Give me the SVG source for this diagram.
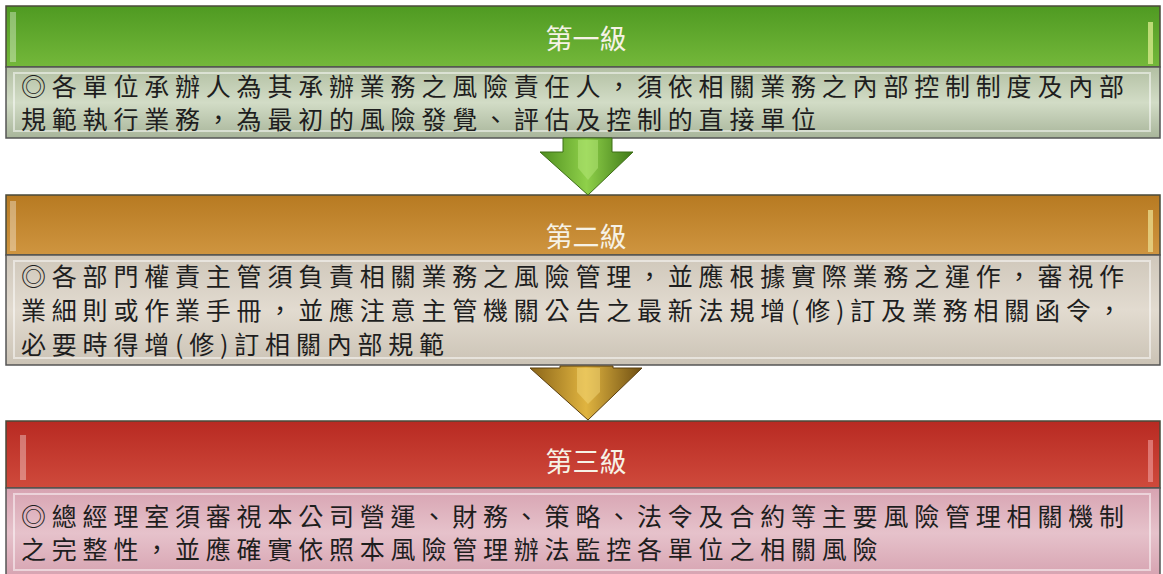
<svg xmlns="http://www.w3.org/2000/svg" width="1163" height="574" viewBox="0 0 1163 574">
<defs>
<linearGradient id="gHead" x1="0" y1="0" x2="0" y2="1"><stop offset="0" stop-color="#4f9a22"/><stop offset="1" stop-color="#74b83a"/></linearGradient>
<linearGradient id="gBody" x1="0" y1="0" x2="0" y2="1"><stop offset="0" stop-color="#b2bfa2"/><stop offset="0.5" stop-color="#d2dcc6"/><stop offset="1" stop-color="#a8b59a"/></linearGradient>
<linearGradient id="oHead" x1="0" y1="0" x2="0" y2="1"><stop offset="0" stop-color="#b77a22"/><stop offset="1" stop-color="#cf9540"/></linearGradient>
<linearGradient id="oBody" x1="0" y1="0" x2="0" y2="1"><stop offset="0" stop-color="#cfc7ba"/><stop offset="0.5" stop-color="#e2dbd0"/><stop offset="1" stop-color="#cbc3b5"/></linearGradient>
<linearGradient id="rHead" x1="0" y1="0" x2="0" y2="1"><stop offset="0" stop-color="#b82a22"/><stop offset="1" stop-color="#cf4a3c"/></linearGradient>
<linearGradient id="rBody" x1="0" y1="0" x2="0" y2="1"><stop offset="0" stop-color="#d7a3b1"/><stop offset="0.5" stop-color="#e6c2cb"/><stop offset="1" stop-color="#d6a2b0"/></linearGradient>
<linearGradient id="gArrow" x1="0" y1="0" x2="1" y2="0"><stop offset="0" stop-color="#4f8f1f"/><stop offset="0.5" stop-color="#8fd04a"/><stop offset="1" stop-color="#3f7a17"/></linearGradient>
<linearGradient id="oArrow" x1="0" y1="0" x2="1" y2="0"><stop offset="0" stop-color="#8a6418"/><stop offset="0.5" stop-color="#e0b440"/><stop offset="1" stop-color="#6e4e12"/></linearGradient>
</defs>
<style>
.hdr{stroke:#4a4a3a;stroke-width:1.5}
.bdy{stroke:#555;stroke-width:1.5}
.ttl{font-family:"Noto Sans CJK TC","Noto Sans CJK SC",sans-serif;font-size:27px;fill:#f6f2e6;text-anchor:middle}
.txt{font-family:"Noto Sans CJK TC","Noto Sans CJK SC",sans-serif;font-size:25px;fill:#1e1e1e;letter-spacing:5.8px}
.hl{fill:#ffffff;opacity:0.35}
.bev{fill:none;stroke:#ffffff;stroke-width:2;opacity:0.5}
</style>
<g id="level1">
<rect class="hdr" x="6" y="6" width="1154" height="61" fill="url(#gHead)"/>
<rect class="hl" x="10" y="12" width="6" height="50"/>
<rect x="1148" y="22" width="5" height="42" fill="#d6e88a" opacity="0.8"/>
<text class="ttl" x="586" y="49">第一級</text>
<rect class="bdy" x="6" y="67" width="1154" height="71" fill="url(#gBody)"/>
<rect class="bev" x="14" y="73" width="1136" height="58"/>
<text class="txt" x="21" y="96">◎各單位承辦人為其承辦業務之風險責任人，須依相關業務之內部控制制度及內部</text>
<text class="txt" x="21" y="129">規範執行業務，為最初的風險發覺、評估及控制的直接單位</text>
</g>
<g id="level2">
<rect class="hdr" x="6" y="195" width="1154" height="60" fill="url(#oHead)"/>
<rect class="hl" x="10" y="201" width="6" height="50"/>
<rect x="1148" y="210" width="5" height="42" fill="#e8d88a" opacity="0.8"/>
<text class="ttl" x="586" y="247">第二級</text>
<rect class="bdy" x="6" y="255" width="1154" height="110" fill="url(#oBody)"/>
<rect class="bev" x="14" y="261" width="1136" height="97"/>
<text class="txt" x="21" y="286">◎各部門權責主管須負責相關業務之風險管理，並應根據實際業務之運作，審視作</text>
<text class="txt" x="21" y="320">業細則或作業手冊，並應注意主管機關公告之最新法規增(修)訂及業務相關函令，</text>
<text class="txt" x="21" y="354">必要時得增(修)訂相關內部規範</text>
</g>
<g id="level3">
<rect class="hdr" x="6" y="421" width="1154" height="67" fill="url(#rHead)"/>
<rect class="hl" x="20" y="435" width="6" height="45"/>
<rect x="1148" y="440" width="5" height="42" fill="#f0a0a0" opacity="0.6"/>
<text class="ttl" x="586" y="472">第三級</text>
<rect class="bdy" x="6" y="488" width="1154" height="90" fill="url(#rBody)"/>
<rect class="bev" x="14" y="494" width="1136" height="76"/>
<text class="txt" x="21" y="526">◎總經理室須審視本公司營運、財務、策略、法令及合約等主要風險管理相關機制</text>
<text class="txt" x="21" y="559">之完整性，並應確實依照本風險管理辦法監控各單位之相關風險</text>
</g>
<g id="connectors">
<path d="M563 138 L612 138 L612 152 L633 152 L588 195 L540 152 L563 152 Z" fill="url(#gArrow)" stroke="#3d6e16" stroke-width="1"/>
<path d="M578 140 L598 140 L598 168 L588 180 L578 168 Z" fill="#b6e87a" opacity="0.5"/>
<path d="M560 366 L613 366 L613 368 L642 368 L588 420 L530 368 L560 368 Z" fill="url(#oArrow)" stroke="#5a3e0e" stroke-width="1"/>
<path d="M577 368 L600 368 L600 392 L588 404 L577 392 Z" fill="#f4d878" opacity="0.5"/>
</g>
</svg>
